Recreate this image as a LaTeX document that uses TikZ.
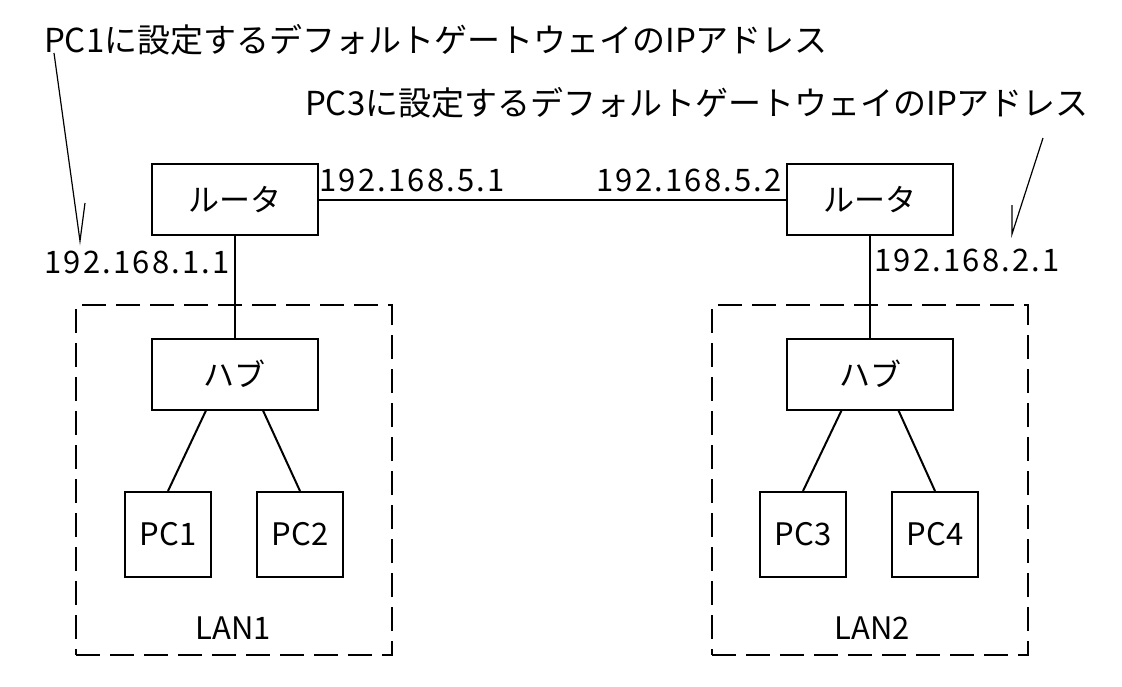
\documentclass[tikz,border=0pt]{standalone}
\usepackage{fontspec}
\setmainfont{Noto Sans CJK JP}
\usepackage{tikz}

\begin{document}
\begin{tikzpicture}[x=1pt,y=-1pt,line width=2pt,
  every node/.style={font=\fontsize{31}{37}\selectfont,inner sep=0pt},
  title/.style={font=\fontsize{33}{39}\selectfont},
  addr/.style={font=\fontsize{31}{37}\selectfont\addfontfeatures{LetterSpace=7}},
  dev/.style={draw,minimum width=166pt,minimum height=71pt},
  pc/.style={draw,minimum width=86pt,minimum height=85pt},
  lan/.style={draw,dash pattern=on 24pt off 10pt,minimum width=316pt,minimum height=350pt},
  lead/.style={line width=1.2pt}]
\useasboundingbox (0,0) rectangle (1122,686);
%
\node[title] (t1) at (436,40) {PC1に設定するデフォルトゲートウェイのIPアドレス};
\node[title] (t3) at (697,103) {PC3に設定するデフォルトゲートウェイのIPアドレス};
%
\node[dev] (r1) at (234.5,199.5) {ルータ};
\node[dev] (r2) at (870,199.5) {ルータ};
\node[addr] (a11) at (137,262) {192.168.1.1};
\node[addr] (a51) at (412,180) {192.168.5.1};
\node[addr] (a52) at (689,180) {192.168.5.2};
\node[addr] (a21) at (967,260) {192.168.2.1};
%
\node[lan] (lan1) at (234,480) {};
\node[lan] (lan2) at (870,480) {};
\node (n1) at (233,628) {LAN1};
\node (n2) at (872,628) {LAN2};
%
\node[dev] (h1) at (234.5,374) {ハブ};
\node[dev] (h2) at (870,374) {ハブ};
\node[pc] (pc1) at (168,534.5) {PC1};
\node[pc] (pc2) at (300,534.5) {PC2};
\node[pc] (pc3) at (803,534.5) {PC3};
\node[pc] (pc4) at (935,534.5) {PC4};
%
\coordinate (l1a) at (54,53);
\coordinate (l1b) at (80,241);
\coordinate (l1c) at (85,203);
\coordinate (l3a) at (1043,138);
\coordinate (l3b) at (1012,234);
\coordinate (l3c) at (1012,205);
%
\draw (r1) edge (r2);
\draw (r1) edge (h1);
\draw (r2) edge (h2);
\draw (h1.232) edge (pc1.north);
\draw (h1.308) edge (pc2.north);
\draw (h2.232) edge (pc3.north);
\draw (h2.308) edge (pc4.north);
\draw[lead] (l1a) -- (l1b) -- (l1c);
\draw[lead] (l3a) -- (l3b) -- (l3c);
%
\end{tikzpicture}
\end{document}
